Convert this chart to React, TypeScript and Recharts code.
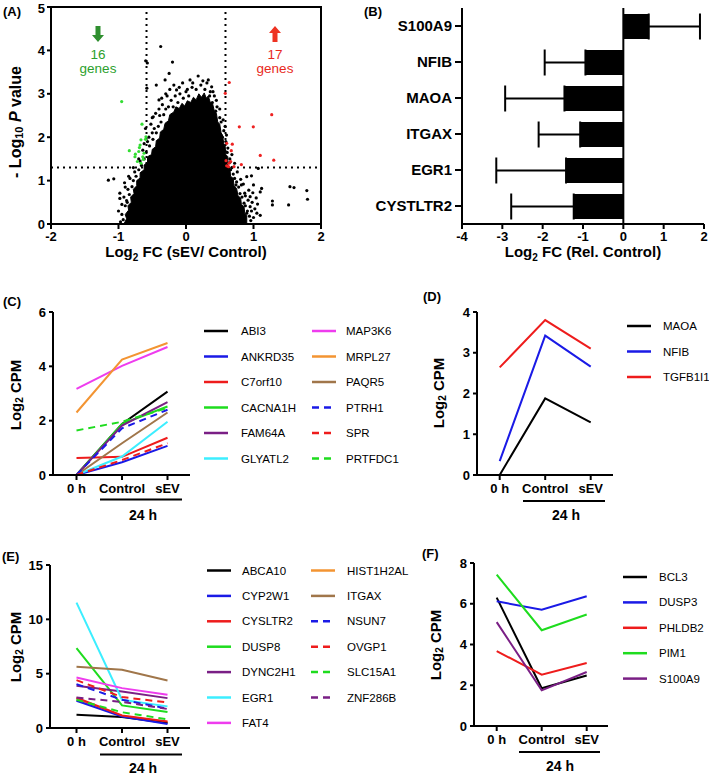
import React from 'react';
import {
  ComposedChart, Scatter, Area, XAxis, YAxis, ReferenceLine, ReferenceArea,
  BarChart, Bar, ErrorBar, LineChart, Line,
} from 'recharts';

const FONT = '"Liberation Sans", Arial, Helvetica, sans-serif';

// ---------- Panel A : volcano ----------
// outline of the dense (solid) part of the point cloud
const volcanoCore: [number, number][] = [
  [-0.92, 0], [-0.88, 0.12], [-0.9, 0.22], [-0.85, 0.32], [-0.86, 0.42], [-0.81, 0.5], [-0.82, 0.62],
  [-0.77, 0.7], [-0.78, 0.8], [-0.73, 0.88], [-0.73, 1.0], [-0.68, 1.06], [-0.68, 1.18], [-0.62, 1.25],
  [-0.62, 1.36], [-0.57, 1.42], [-0.57, 1.55], [-0.51, 1.6], [-0.5, 1.72], [-0.45, 1.78], [-0.44, 1.92],
  [-0.39, 1.98], [-0.38, 2.12], [-0.33, 2.18], [-0.31, 2.32], [-0.26, 2.38], [-0.24, 2.52], [-0.18, 2.58],
  [-0.15, 2.7], [-0.1, 2.66], [-0.06, 2.78], [-0.02, 2.72], [0.02, 2.84], [0.07, 2.8], [0.11, 2.92],
  [0.15, 2.86], [0.19, 3.0], [0.23, 2.92], [0.27, 3.02], [0.3, 2.9], [0.33, 2.95], [0.36, 2.8],
  [0.39, 2.8], [0.42, 2.6], [0.45, 2.55], [0.47, 2.35], [0.5, 2.3], [0.52, 2.1], [0.54, 2.05],
  [0.56, 1.85], [0.58, 1.8], [0.59, 1.6], [0.62, 1.55], [0.62, 1.35], [0.65, 1.3], [0.66, 1.1],
  [0.7, 1.05], [0.71, 0.88], [0.75, 0.82], [0.77, 0.65], [0.81, 0.6], [0.82, 0.45], [0.86, 0.4],
  [0.87, 0.25], [0.9, 0.2], [0.9, 0],
];
const volcanoOther: [number, number][] = [
  [-0.93, 0.1], [-0.95, 0.22], [-0.9, 0.42], [-0.87, 0.5], [-0.92, 0.62], [-0.84, 0.68], [-0.86, 0.8],
  [-0.8, 0.86], [-0.78, 1.0], [-0.83, 1.05], [-0.74, 1.1], [-0.7, 1.25], [-0.76, 1.2], [-0.66, 1.35],
  [-0.68, 1.45], [-0.62, 1.5], [-0.59, 1.65], [-0.64, 1.7], [-0.54, 1.8], [-0.57, 1.9], [-0.49, 1.95],
  [-0.5, 2.1], [-0.44, 2.1], [-0.41, 2.25], [-0.47, 2.2], [-0.37, 2.35], [-0.39, 2.5], [-0.33, 2.52],
  [-0.3, 2.65], [-0.26, 2.7], [-0.22, 2.85], [-0.19, 2.7], [-0.16, 2.95], [-0.12, 2.8], [-0.09, 3.0],
  [-0.04, 2.9], [0.0, 3.05], [0.04, 2.95],
  [0.09, 3.15], [0.15, 3.1], [0.22, 3.2], [0.28, 3.1], [0.35, 2.95], [0.42, 2.95], [0.39, 2.8],
  [0.46, 2.7], [0.44, 2.6], [0.5, 2.45], [0.52, 2.35], [0.56, 2.15], [0.54, 2.0], [0.59, 1.9],
  [0.62, 1.75], [0.61, 1.65], [0.65, 1.5], [0.66, 1.25], [0.7, 1.15], [0.72, 1.05], [0.74, 0.9],
  [0.78, 0.85], [0.8, 0.7], [0.83, 0.62], [0.86, 0.48], [0.88, 0.42], [0.91, 0.3], [0.94, 0.18],
  [0.96, 0.08], [0.92, 0.55], [0.98, 0.5], [1.02, 0.35], [0.99, 0.72], [1.04, 0.6], [0.85, 0.92],
  [0.81, 1.03],
  [-0.45, 2.55], [-0.4, 2.65], [-0.36, 2.9], [-0.3, 3.0], [-0.24, 3.1], [-0.18, 3.2], [-0.1, 3.15],
  [-0.05, 3.25], [0.02, 3.1], [0.1, 3.25], [0.25, 3.3], [0.4, 3.05], [0.45, 2.85], [0.5, 2.65],
  [0.55, 2.4], [0.58, 2.25], [0.6, 2.05], [-0.6, 2.2], [-0.5, 2.45], [-0.62, 1.85], [-0.7, 1.5],
  [-0.78, 1.3], [-0.85, 1.1], [-0.9, 0.85], [-0.95, 0.45], [-1.0, 0.3], [-0.97, 0.05], [0.68, 1.6],
  [0.72, 1.4], [0.76, 1.2], [0.82, 0.9], [0.88, 0.65], [0.95, 0.4], [1.0, 0.15], [1.05, 0.25],
  [-0.98, 0.59], [-0.98, 0.71], [-0.88, 0.54], [-0.91, 0.95], [-1.07, 1.04], [-1.15, 1.01],
  [-0.485, 2.47], [-0.4, 2.86], [-0.58, 3.13], [-0.44, 3.2], [-0.31, 3.32], [-0.25, 3.47],
  [-0.2, 3.73], [-0.375, 4.09], [-0.597, 3.76], [-0.573, 3.71], [-0.14, 3.09], [-0.55, 2.0],
  [-0.52, 2.3], [-0.35, 2.75], [-0.28, 2.95],
  [0.06, 3.32], [0.18, 3.41], [0.31, 3.25], [0.33, 3.32], [0.38, 3.16], [0.36, 3.05],
  [0.9, 1.09], [0.97, 1.11], [1.07, 1.28], [1.12, 0.82], [1.1, 0.74], [1.54, 0.86], [1.6, 0.84],
  [1.79, 0.77], [1.8, 0.57], [1.28, 0.53], [1.28, 0.44], [1.52, 0.44], [1.06, 0.46], [0.95, 0.63],
  [0.87, 0.71], [0.9, 0.25], [0.75, 0.97], [0.97, 0.3], [0.68, 1.3], [0.65, 1.42], [1.0, 0.9],
  [1.1, 0.2], [0.93, 0.78],
];
const volcanoDown: [number, number][] = [
  [-0.953, 2.82], [-0.652, 2.3], [-0.84, 1.69], [-0.68, 1.82], [-0.667, 1.94], [-0.593, 2.01],
  [-0.75, 1.61], [-0.756, 1.55], [-0.72, 1.44], [-0.667, 1.4], [-0.633, 1.49], [-0.622, 1.63],
  [-0.69, 1.76], [-0.6, 1.95], [-0.7, 1.67], [-0.64, 1.55],
];
const volcanoUp: [number, number][] = [
  [0.641, 3.26], [0.582, 3.01], [1.27, 2.52], [0.79, 2.24], [0.997, 2.24], [0.603, 1.86],
  [0.686, 1.84], [0.671, 1.69], [1.1, 1.58], [1.3, 1.47], [0.593, 1.46], [0.662, 1.44],
  [0.637, 1.4], [0.603, 1.34], [0.82, 1.37], [0.711, 1.32], [0.63, 1.32],
];
const fcCutoff = 0.585;
const pCutoff = 1.3;
const volcanoXTicks = [-2, -1, 0, 1, 2];
const volcanoYTicks = [0, 1, 2, 3, 4, 5];

// ---------- Panel B ----------
const bGenes = ['S100A9', 'NFIB', 'MAOA', 'ITGAX', 'EGR1', 'CYSTLTR2'];
const bFC = [0.63, -0.94, -1.46, -1.07, -1.42, -1.23];
const bErrEnd = [1.9, -1.95, -2.93, -2.1, -3.15, -2.78];
const bXTicks = [-4, -3, -2, -1, 0, 1, 2];

// ---------- Time-course panels ----------
const timepoints = ['0 h', 'Control', 'sEV'];

const BLACK = '#000000', BLUE = '#1a1ae6', RED = '#ee1c1c', GREEN = '#1edc1e', PURPLE = '#7a1f85',
  CYAN = '#3ceeff', MAGENTA = '#ee3cee', ORANGE = '#f39432', BROWN = '#a0764a';

const cGenes = ['ABI3', 'ANKRD35', 'C7orf10', 'CACNA1H', 'FAM64A', 'GLYATL2', 'MAP3K6', 'MRPL27', 'PAQR5', 'PTRH1', 'SPR', 'PRTFDC1'];
const cColors = [BLACK, BLUE, RED, GREEN, PURPLE, CYAN, MAGENTA, ORANGE, BROWN, BLUE, RED, GREEN];
const cDashed = [false, false, false, false, false, false, false, false, false, true, true, true];
const cValues = [
  [0, 1.88, 3.07], [0, 0.47, 1.07], [0.63, 0.67, 1.37], [0, 1.88, 2.52], [0, 1.82, 2.68],
  [0, 0.68, 1.96], [3.17, 4.02, 4.71], [2.3, 4.25, 4.86], [0, 1.17, 2.3], [0, 1.72, 2.4],
  [0, 0.55, 1.17], [1.64, 1.96, 2.47],
];

const dGenes = ['MAOA', 'NFIB', 'TGFB1I1'];
const dColors = [BLACK, BLUE, RED];
const dDashed = [false, false, false];
const dValues = [[0, 1.88, 1.29], [0.34, 3.42, 2.66], [2.64, 3.8, 3.1]];

const eGenes = ['ABCA10', 'CYP2W1', 'CYSLTR2', 'DUSP8', 'DYNC2H1', 'EGR1', 'FAT4', 'HIST1H2AL', 'ITGAX', 'NSUN7', 'OVGP1', 'SLC15A1', 'ZNF286B'];
const eColors = [BLACK, BLUE, RED, GREEN, PURPLE, CYAN, MAGENTA, ORANGE, BROWN, BLUE, RED, GREEN, PURPLE];
const eDashed = [false, false, false, false, false, false, false, false, false, true, true, true, true];
const eValues = [
  [1.22, 1.01, 0.46], [2.51, 1.05, 0.37], [2.78, 1.15, 0.6], [7.35, 2.08, 1.47], [3.88, 3.36, 2.75],
  [11.54, 2.6, 1.99], [4.65, 3.67, 3.06], [2.65, 1.1, 0.55], [5.63, 5.35, 4.38], [4.04, 2.6, 1.78],
  [4.4, 2.85, 2.35], [2.6, 1.45, 0.8], [2.8, 2.4, 1.75],
];
const eDrawOrder = [7, 0, 1, 2, 3, 4, 5, 6, 8, 9, 10, 11, 12];

const fGenes = ['BCL3', 'DUSP3', 'PHLDB2', 'PIM1', 'S100A9'];
const fColors = [BLACK, BLUE, RED, GREEN, PURPLE];
const fDashed = [false, false, false, false, false];
const fValues = [[6.3, 1.85, 2.48], [6.12, 5.71, 6.37], [3.68, 2.52, 3.09], [7.43, 4.7, 5.47], [5.1, 1.75, 2.65]];

// ---------- styles ----------
const tickStyle = { fontSize: 13, fontWeight: 'bold', fill: '#000', fontFamily: FONT };
const axisStroke = { stroke: '#000', strokeWidth: 2 };

const dot = (color: string) => (p: any) => (
  <circle cx={p.cx} cy={p.cy} r={1.6} fill={color} />
);

function LinePanel(props: any) {
  const { left, top, width, height, margin, yWidth, xHeight, yDomain, yTicks, genes, colors, dashed, values, order, xPad } = props;
  const rows = timepoints.map((t, i) => {
    const r: any = { t };
    genes.forEach((g: string, k: number) => { r[g] = values[k][i]; });
    return r;
  });
  const idx: number[] = order ?? genes.map((_: any, k: number) => k);
  return (
    <div style={{ position: 'absolute', left, top }}>
      <LineChart width={width} height={height} data={rows} margin={margin}>
        <XAxis dataKey="t" type="category" interval={0} height={xHeight} padding={xPad}
          tickSize={5} tickMargin={4} tick={tickStyle} tickLine={axisStroke} axisLine={axisStroke} />
        <YAxis type="number" domain={yDomain} ticks={yTicks} width={yWidth} tickSize={4} tickMargin={3}
          tick={tickStyle} tickLine={axisStroke} axisLine={axisStroke} allowDataOverflow />
        {idx.map((k) => (
          <Line key={genes[k]} dataKey={genes[k]} type="linear" stroke={colors[k]} strokeWidth={2}
            strokeDasharray={dashed[k] ? '7 5' : undefined} dot={false} activeDot={false} isAnimationActive={false} />
        ))}
      </LineChart>
    </div>
  );
}

function Legend(props: any) {
  const { genes, colors, dashed, cols, y0, dy, perCol } = props;
  return (
    <g>
      {genes.map((g: string, k: number) => {
        const c = cols[Math.floor(k / perCol)];
        const y = y0 + (k % perCol) * dy;
        return (
          <g key={g}>
            <line x1={c.lx} x2={c.lx + 24} y1={y} y2={y} stroke={colors[k]} strokeWidth={2.5}
              strokeDasharray={dashed[k] ? '7 5' : undefined} />
            <text x={c.tx} y={y} dominantBaseline="central" fontSize={11.5} fontFamily={FONT} fill="#000">{g}</text>
          </g>
        );
      })}
    </g>
  );
}

function Bracket({ x1, x2, y, tx, ty }: any) {
  return (
    <g>
      <line x1={x1} x2={x2} y1={y} y2={y} stroke="#000" strokeWidth={2} />
      <text x={tx} y={ty} textAnchor="middle" fontSize={14} fontWeight="bold" fontFamily={FONT}>24 h</text>
    </g>
  );
}

function YTitle({ x, y, size }: any) {
  return (
    <text transform={`translate(${x},${y}) rotate(-90)`} textAnchor="middle" dominantBaseline="central"
      fontSize={size} fontWeight="bold" fontFamily={FONT}>
      Log<tspan dy={4} fontSize={10}>2</tspan><tspan dy={-4}> CPM</tspan>
    </text>
  );
}

export default function App() {
  const core = volcanoCore.map(([x, y]) => ({ x, y }));
  const other = volcanoOther.map(([x, y]) => ({ x, y }));
  const down = volcanoDown.map(([x, y]) => ({ x, y }));
  const up = volcanoUp.map(([x, y]) => ({ x, y }));
  const bData = bGenes.map((g, i) => ({
    gene: g,
    fc: bFC[i],
    err: bFC[i] >= 0 ? [0, bErrEnd[i] - bFC[i]] : [bFC[i] - bErrEnd[i], 0],
  }));
  const textProps = { fontFamily: FONT, fontWeight: 'bold' as const };

  return (
    <div style={{ position: 'absolute', left: 0, top: 0, width: 709, height: 778, background: '#fff', fontFamily: FONT }}>
      {/* Panel A */}
      <div style={{ position: 'absolute', left: 0, top: 0 }}>
        <ComposedChart width={340} height={250} data={core} margin={{ top: 7, right: 19, bottom: 0, left: 0 }}>
          <XAxis type="number" dataKey="x" domain={[-2, 2]} ticks={volcanoXTicks} height={26} tickSize={5} tickMargin={3}
            tick={tickStyle} tickLine={axisStroke} axisLine={axisStroke} allowDataOverflow />
          <YAxis type="number" dataKey="y" domain={[0, 5]} ticks={volcanoYTicks} width={51} tickSize={4} tickMargin={2}
            tick={tickStyle} tickLine={axisStroke} axisLine={axisStroke} allowDataOverflow />
          <Area dataKey="y" type="linear" stroke="#000" strokeWidth={1} fill="#000" fillOpacity={1}
            dot={false} activeDot={false} isAnimationActive={false} />
          <Scatter data={other} fill="#000" shape={dot('#000')} isAnimationActive={false} />
          <Scatter data={down} fill="#33dd33" shape={dot('#33dd33')} isAnimationActive={false} />
          <Scatter data={up} fill="#ee2222" shape={dot('#ee2222')} isAnimationActive={false} />
          <ReferenceLine x={-fcCutoff} stroke="#000" strokeWidth={2} strokeDasharray="2 4" />
          <ReferenceLine x={fcCutoff} stroke="#000" strokeWidth={2} strokeDasharray="2 4" />
          <ReferenceLine y={pCutoff} stroke="#000" strokeWidth={2} strokeDasharray="2 4" />
          <ReferenceArea x1={-2} x2={2} y1={0} y2={5} fill="none" fillOpacity={0} stroke="#000" strokeWidth={2} />
        </ComposedChart>
      </div>

      {/* Panel B */}
      <div style={{ position: 'absolute', left: 360, top: 0 }}>
        <BarChart layout="vertical" width={349} height={265} data={bData} margin={{ top: 8, right: 5, bottom: 0, left: 0 }}>
          <XAxis type="number" domain={[-4, 2]} ticks={bXTicks} height={41} tickSize={5} tickMargin={3}
            tick={tickStyle} tickLine={axisStroke} axisLine={axisStroke} allowDataOverflow />
          <YAxis type="category" dataKey="gene" width={102} tickSize={7} tickMargin={3}
            tick={{ ...tickStyle, fontSize: 15 }} tickLine={axisStroke} axisLine={axisStroke} />
          <ReferenceLine x={0} stroke="#000" strokeWidth={2} />
          <Bar dataKey="fc" fill="#000" barSize={25} isAnimationActive={false}>
            <ErrorBar dataKey="err" direction="x" width={13} stroke="#000" strokeWidth={2} />
          </Bar>
        </BarChart>
      </div>

      {/* Panel C */}
      <LinePanel left={0} top={290} width={200} height={215} margin={{ top: 22, right: 10, bottom: 0, left: 0 }}
        yWidth={53} xHeight={30} yDomain={[0, 6]} yTicks={[0, 2, 4, 6]} xPad={{ left: 23.5, right: 22.5 }}
        genes={cGenes} colors={cColors} dashed={cDashed} values={cValues} />
      {/* Panel D */}
      <LinePanel left={420} top={290} width={200} height={215} margin={{ top: 22, right: 7, bottom: 0, left: 0 }}
        yWidth={57} xHeight={30} yDomain={[0, 4]} yTicks={[0, 1, 2, 3, 4]} xPad={{ left: 22.7, right: 22.3 }}
        genes={dGenes} colors={dColors} dashed={dDashed} values={dValues} />
      {/* Panel E */}
      <LinePanel left={0} top={545} width={200} height={215} margin={{ top: 20, right: 10, bottom: 0, left: 0 }}
        yWidth={50} xHeight={32} yDomain={[0, 15]} yTicks={[0, 5, 10, 15]} xPad={{ left: 26.5, right: 22.5 }}
        genes={eGenes} colors={eColors} dashed={eDashed} values={eValues} order={eDrawOrder} />
      {/* Panel F */}
      <LinePanel left={420} top={545} width={200} height={215} margin={{ top: 18, right: 12, bottom: 0, left: 0 }}
        yWidth={54} xHeight={34} yDomain={[0, 8]} yTicks={[0, 2, 4, 6, 8]} xPad={{ left: 22.7, right: 21.3 }}
        genes={fGenes} colors={fColors} dashed={fDashed} values={fValues} />

      {/* Overlay: labels, titles, legends */}
      <svg width={709} height={778} style={{ position: 'absolute', left: 0, top: 0, pointerEvents: 'none' }}>
        <g fontSize={13} {...textProps}>
          <text x={3} y={16}>(A)</text>
          <text x={364} y={16}>(B)</text>
          <text x={3} y={306}>(C)</text>
          <text x={423} y={301}>(D)</text>
          <text x={2} y={561}>(E)</text>
          <text x={422} y={558}>(F)</text>
        </g>

        {/* Panel A titles */}
        <text transform="translate(15,122) rotate(-90)" textAnchor="middle" dominantBaseline="central"
          fontSize={16} {...textProps}>
          - Log<tspan dy={4} fontSize={11}>10</tspan><tspan dy={-4}> </tspan><tspan fontStyle="italic">P</tspan> value
        </text>
        <text x={186} y={257} textAnchor="middle" fontSize={15} {...textProps}>
          Log<tspan dy={4} fontSize={10}>2</tspan><tspan dy={-4}> FC (sEV/ Control)</tspan>
        </text>
        <path d="M95.5,26 L100.5,26 L100.5,35 L104,35 L98,42 L92,35 L95.5,35 Z" fill="#2f8f2f" />
        <text x={98} y={59} textAnchor="middle" fontSize={13.5} fontFamily={FONT} fill="#2ca02c">16</text>
        <text x={98} y={73} textAnchor="middle" fontSize={13.5} fontFamily={FONT} fill="#2ca02c">genes</text>
        <path d="M272.5,42 L277.5,42 L277.5,33 L281,33 L275,26 L269,33 L272.5,33 Z" fill="#ee3322" />
        <text x={275} y={59} textAnchor="middle" fontSize={13.5} fontFamily={FONT} fill="#e8291c">17</text>
        <text x={275} y={73} textAnchor="middle" fontSize={13.5} fontFamily={FONT} fill="#e8291c">genes</text>

        {/* Panel B title */}
        <text x={583} y={257} textAnchor="middle" fontSize={15} {...textProps}>
          Log<tspan dy={4} fontSize={10}>2</tspan><tspan dy={-4}> FC (Rel. Control)</tspan>
        </text>

        {/* Y titles C-F */}
        <YTitle x={15} y={395} size={15} />
        <YTitle x={438} y={393} size={15} />
        <YTitle x={15} y={647} size={15} />
        <YTitle x={435} y={645} size={15} />

        {/* Brackets */}
        <Bracket x1={100} x2={182} y={499.5} tx={143} ty={520} />
        <Bracket x1={523} x2={605} y={501} tx={566} ty={520} />
        <Bracket x1={100} x2={182} y={754.5} tx={143} ty={773} />
        <Bracket x1={519} x2={600} y={752} tx={560} ty={771} />

        {/* Legends */}
        <Legend genes={cGenes} colors={cColors} dashed={cDashed} perCol={6} y0={331} dy={25.5}
          cols={[{ lx: 204, tx: 241 }, { lx: 312, tx: 346 }]} />
        <Legend genes={dGenes} colors={dColors} dashed={dDashed} perCol={3} y0={326} dy={25.5}
          cols={[{ lx: 627, tx: 663 }]} />
        <Legend genes={eGenes} colors={eColors} dashed={eDashed} perCol={7} y0={570.5} dy={25.4}
          cols={[{ lx: 207, tx: 242 }, { lx: 311, tx: 347 }]} />
        <Legend genes={fGenes} colors={fColors} dashed={fDashed} perCol={5} y0={577} dy={25.4}
          cols={[{ lx: 623, tx: 659 }]} />
      </svg>
    </div>
  );
}
